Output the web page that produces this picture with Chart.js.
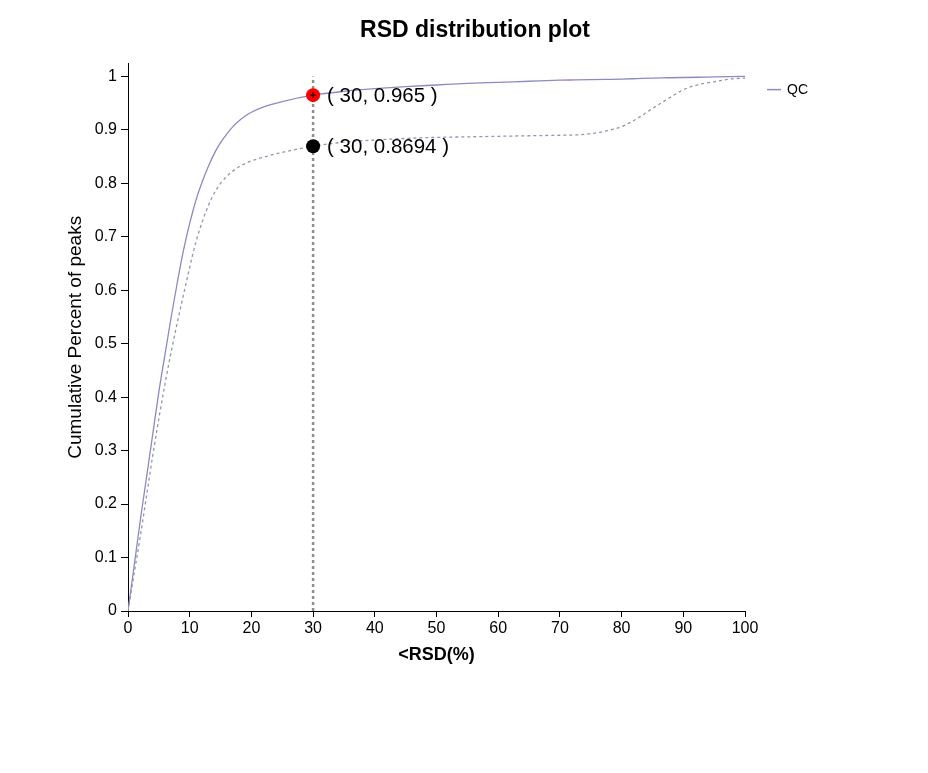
<!DOCTYPE html>
<html>
<head>
<meta charset="utf-8">
<script src="https://cdn.jsdelivr.net/npm/chart.js@4.4.1/dist/chart.umd.min.js"></script>
<style>
  html, body { margin: 0; padding: 0; background: #fff; }
  #wrap { width: 928px; height: 773px; }
</style>
</head>
<body>
<div id="wrap"><canvas id="rsdChart" width="928" height="773"></canvas></div>
<script>
// RSD distribution plot

const rsdValues = [0, 1, 2, 3, 4, 5, 6, 7, 8, 9, 10, 11, 12, 13, 14, 15, 16, 17, 18, 19, 20, 22, 25, 30,
    35, 40, 45, 50, 55, 60, 65, 70, 72.5, 75, 77.5, 80, 82.5, 85, 87.5, 90, 92.5, 95, 97.5, 100];
const qcCumulative = [0, 0.085, 0.17, 0.25, 0.33, 0.41, 0.48, 0.55, 0.615, 0.675, 0.725, 0.768,
    0.802, 0.831, 0.856, 0.876, 0.892, 0.906, 0.917, 0.926, 0.933, 0.943, 0.953, 0.965,
    0.972, 0.977, 0.981, 0.984, 0.987, 0.989, 0.991, 0.993, 0.9935, 0.994, 0.9945, 0.995,
    0.996, 0.997, 0.9975, 0.998, 0.9985, 0.999, 0.9995, 1];
const sampleCumulative = [0, 0.07, 0.14, 0.215, 0.29, 0.36, 0.425, 0.485, 0.54, 0.592, 0.643, 0.69,
    0.727, 0.758, 0.782, 0.8, 0.813, 0.823, 0.831, 0.837, 0.842, 0.849, 0.858, 0.8694,
    0.877, 0.881, 0.884, 0.886, 0.887, 0.888, 0.889, 0.89, 0.8905, 0.893, 0.898, 0.906,
    0.921, 0.94, 0.958, 0.975, 0.985, 0.99, 0.995, 0.997];
const cutoffRsd = 30;
const cutoffQc = 0.965;
const cutoffSample = 0.8694;
const xTicks = [0, 10, 20, 30, 40, 50, 60, 70, 80, 90, 100];
const yTicks = [0, 0.1, 0.2, 0.3, 0.4, 0.5, 0.6, 0.7, 0.8, 0.9, 1];

const fontName = "'Liberation Sans', Arial, sans-serif";
const lineColor = "#8b8bc2";

function toPoints(xs, ys) {
    let pts = [];
    for (let i = 0; i < xs.length; i++) {
        pts.push({ x: xs[i], y: ys[i] });
    }
    return pts;
}

// labels next to the two cut-off markers, and the small legend on the right
const annotatePlugin = {
    id: "annotate",
    afterDatasetsDraw(chart) {
        const ctx = chart.ctx;
        const xs = chart.scales.x;
        const ys = chart.scales.y;
        ctx.save();
        ctx.fillStyle = "#000";
        ctx.font = "20.5px " + fontName;
        ctx.textAlign = "left";
        ctx.textBaseline = "middle";
        const px = xs.getPixelForValue(cutoffRsd);
        ctx.fillText("( " + cutoffRsd + ", " + cutoffQc + " )", px + 14, ys.getPixelForValue(cutoffQc) + 1);
        ctx.fillText("( " + cutoffRsd + ", " + cutoffSample + " )", px + 14, ys.getPixelForValue(cutoffSample) + 1);

        const area = chart.chartArea;
        const lx = area.right + 22;
        const ly = area.top + 26;
        ctx.strokeStyle = lineColor;
        ctx.lineWidth = 1.5;
        ctx.beginPath();
        ctx.moveTo(lx, ly);
        ctx.lineTo(lx + 14, ly);
        ctx.stroke();
        ctx.font = "14px " + fontName;
        ctx.fillText("QC", lx + 20, ly + 1);
        ctx.restore();
    }
};

new Chart(document.getElementById("rsdChart"), {
    type: "line",
    data: {
        datasets: [
            {
                label: "cross",
                data: [{ x: cutoffRsd, y: cutoffQc }],
                showLine: false,
                pointStyle: "cross",
                pointRadius: 3,
                borderColor: "#000",
                borderWidth: 1,
                order: 0
            },
            {
                label: "markers",
                data: [{ x: cutoffRsd, y: cutoffQc }, { x: cutoffRsd, y: cutoffSample }],
                showLine: false,
                pointRadius: 7,
                pointBackgroundColor: ["#ff0000", "#000000"],
                pointBorderColor: ["#ff0000", "#000000"],
                borderWidth: 0,
                order: 1
            },
            {
                label: "QC",
                data: toPoints(rsdValues, qcCumulative),
                borderColor: lineColor,
                borderWidth: 1.3,
                pointRadius: 0,
                cubicInterpolationMode: "monotone",
                order: 2
            },
            {
                label: "Sample",
                data: toPoints(rsdValues, sampleCumulative),
                borderColor: "#9494b0",
                borderWidth: 1.3,
                borderDash: [3, 3],
                pointRadius: 0,
                cubicInterpolationMode: "monotone",
                order: 3
            },
            {
                label: "cutoff",
                data: [{ x: cutoffRsd, y: 0 }, { x: cutoffRsd, y: 1 }],
                borderColor: "#8e8e8e",
                borderWidth: 2.5,
                borderDash: [3, 3],
                pointRadius: 0,
                order: 4
            }
        ]
    },
    options: {
        responsive: false,
        animation: false,
        devicePixelRatio: 1,
        layout: { padding: { left: 55, right: 33, top: 0, bottom: 0 } },
        plugins: {
            legend: { display: false },
            tooltip: { enabled: false },
            title: {
                display: true,
                text: "RSD distribution plot",
                color: "#000",
                font: { family: fontName, size: 23, weight: "bold" },
                padding: { top: 17, bottom: 19 }
            }
        },
        scales: {
            x: {
                type: "linear",
                min: 0,
                max: 100,
                afterBuildTicks: (scale) => { scale.ticks = xTicks.map(v => ({ value: v })); },
                afterFit: (scale) => { scale.height = 162; },
                ticks: { color: "#000", font: { family: fontName, size: 16 }, padding: 2, maxRotation: 0 },
                grid: { drawOnChartArea: false, drawTicks: true, tickLength: 6, color: "#000" },
                border: { display: true, color: "#000", width: 1 },
                title: {
                    display: true,
                    text: "<RSD(%)",
                    color: "#000",
                    font: { family: fontName, size: 18, weight: "bold" },
                    padding: { top: 0, bottom: 107 }
                }
            },
            y: {
                type: "linear",
                min: 0,
                max: 1.024,
                afterBuildTicks: (scale) => { scale.ticks = yTicks.map(v => ({ value: v })); },
                afterFit: (scale) => { scale.width = 73; },
                ticks: {
                    color: "#000",
                    font: { family: fontName, size: 16 },
                    padding: 4,
                    callback: (v) => String(+v.toFixed(1))
                },
                grid: { drawOnChartArea: false, drawTicks: true, tickLength: 7, color: "#000" },
                border: { display: true, color: "#000", width: 1 },
                title: {
                    display: true,
                    text: "Cumulative Percent of peaks",
                    color: "#000",
                    font: { family: fontName, size: 19 },
                    padding: { top: 9, bottom: 0 }
                }
            },
            spacer: {
                type: "linear",
                position: "right",
                display: true,
                afterFit: (scale) => { scale.width = 150; },
                ticks: { display: false },
                grid: { display: false },
                border: { display: false }
            }
        }
    },
    plugins: [annotatePlugin]
});
</script>
</body>
</html>
